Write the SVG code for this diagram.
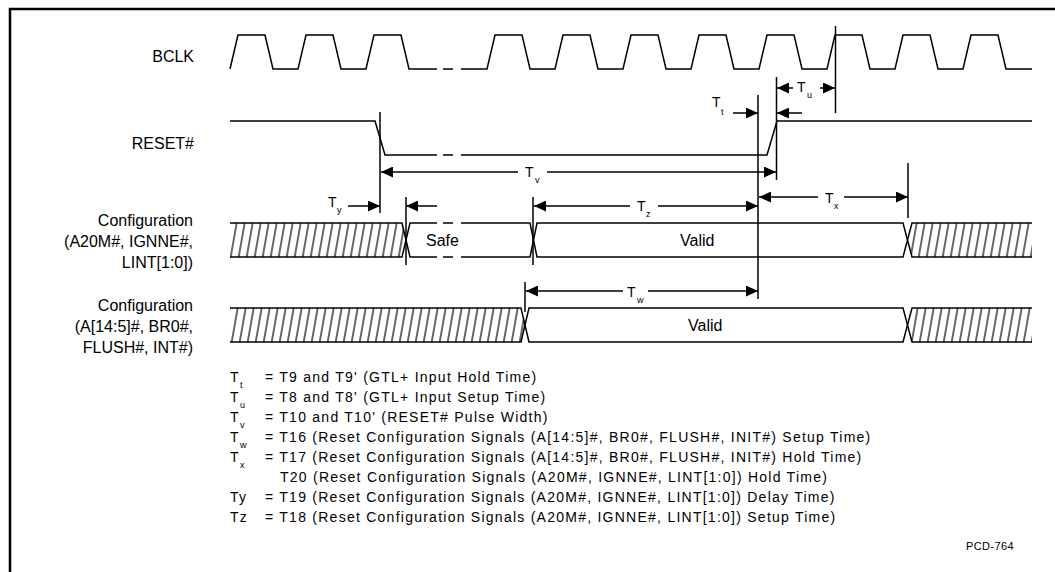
<svg xmlns="http://www.w3.org/2000/svg" width="1055" height="572" viewBox="0 0 1055 572">
<style>
  .w { fill: none; stroke: #000; stroke-width: 1.5; stroke-linejoin: miter; }
  .d { fill: none; stroke: #000; stroke-width: 1.5; }
  .a { fill: none; stroke: #000; stroke-width: 1.5; marker-end: url(#ah); }
  .lbl { font-family: "Liberation Sans", Arial, sans-serif; font-size: 16px; fill: #000; }
  .t { font-family: "Liberation Sans", Arial, sans-serif; font-size: 14px; fill: #000; }
  .s { font-family: "Liberation Sans", Arial, sans-serif; font-size: 9px; fill: #000; }
  .lg { font-family: "Liberation Sans", Arial, sans-serif; font-size: 14px; letter-spacing: 1.25px; fill: #000; }
  .ref { font-family: "Liberation Sans", Arial, sans-serif; font-size: 11px; letter-spacing: 0.4px; fill: #000; }
</style>
<defs>
  <marker id="ah" viewBox="0 0 12 11" refX="12" refY="5.5" markerWidth="12" markerHeight="11" markerUnits="userSpaceOnUse" orient="auto">
    <path d="M0,0 L12,5.5 L0,11 z" fill="#000"/>
  </marker>
  <pattern id="hatch" patternUnits="userSpaceOnUse" width="8" height="10" patternTransform="skewX(-10)">
    <line x1="4" y1="-1" x2="4" y2="11" stroke="#000" stroke-width="1.2"/>
  </pattern>
</defs>
<rect width="1055" height="572" fill="#fff"/>
<path d="M10,572 V9 H1055" fill="none" stroke="#000" stroke-width="2.5"/>

<g id="labels">
  <text class="lbl" x="194" y="62" text-anchor="end">BCLK</text>
  <text class="lbl" x="194" y="149" text-anchor="end">RESET#</text>
  <text class="lbl" x="193" y="226" text-anchor="end">Configuration</text>
  <text class="lbl" x="193" y="247" text-anchor="end">(A20M#, IGNNE#,</text>
  <text class="lbl" x="193" y="268" text-anchor="end">LINT[1:0])</text>
  <text class="lbl" x="193" y="311" text-anchor="end">Configuration</text>
  <text class="lbl" x="193" y="332" text-anchor="end">(A[14:5]#, BR0#,</text>
  <text class="lbl" x="193" y="353" text-anchor="end">FLUSH#, INT#)</text>
</g>

<g id="bclk">
  <path class="w" d="M230,69 L238,35 H265 L273,69 H298 L306,35 H333 L341,69 H366 L374,35 H401 L409,69 H437 M443,69 H453 M461,69 H487 L495,35 H522 L530,69 H555 L563,35 H590 L598,69 H623 L631,35 H658 L666,69 H691 L699,35 H726 L734,69 H759 L767,35 H794 L802,69 H827 L835,35 H862 L870,69 H895 L903,35 H930 L938,69 H963 L971,35 H998 L1006,69 H1032"/>
</g>

<g id="reset">
  <path class="w" d="M230,121 H375 L385,155 H437 M443,155 H453 M461,155 H767 L777,121 H1032"/>
</g>

<g id="config1">
  <polygon points="230,223 402,223 406,240 402,257 230,257" fill="url(#hatch)"/>
  <polygon points="1032,223 912,223 907.5,240 912,257 1032,257" fill="url(#hatch)"/>
  <path class="w" d="M230,223 H402 L410,257 H437 M443,257 H453 M461,257 H530 L537,223 H903 L912,257 H1032"/>
  <path class="w" d="M230,257 H402 L410,223 H437 M443,223 H453 M461,223 H530 L537,257 H903 L912,223 H1032"/>
  <text class="lbl" x="426" y="246">Safe</text>
  <text class="lbl" x="680" y="246">Valid</text>
</g>

<g id="config2">
  <polygon points="230,308 521,308 525,325 521,342 230,342" fill="url(#hatch)"/>
  <polygon points="1032,308 912,308 907.5,325 912,342 1032,342" fill="url(#hatch)"/>
  <path class="w" d="M230,308 H521 L529,342 H903 L912,308 H1032"/>
  <path class="w" d="M230,342 H521 L529,308 H903 L912,342 H1032"/>
  <text class="lbl" x="688" y="331">Valid</text>
</g>

<g id="connectors">
  <!-- reference lines -->
  <line class="d" x1="380" y1="112" x2="380" y2="213"/>
  <line class="d" x1="406" y1="197" x2="406" y2="265"/>
  <line class="d" x1="533" y1="197" x2="533" y2="265"/>
  <line class="d" x1="525" y1="282" x2="525" y2="312"/>
  <line class="d" x1="758" y1="95" x2="758" y2="299"/>
  <line class="d" x1="776.5" y1="77" x2="776.5" y2="180"/>
  <line class="d" x1="835.5" y1="26" x2="835.5" y2="113"/>
  <line class="d" x1="908" y1="163" x2="908" y2="218"/>
  <!-- Tu -->
  <line class="a" x1="793" y1="88" x2="777" y2="88"/>
  <line class="a" x1="820" y1="88" x2="835" y2="88"/>
  <!-- Tt -->
  <line class="a" x1="733" y1="113" x2="758" y2="113"/>
  <line class="a" x1="802" y1="113" x2="777" y2="113"/>
  <!-- Tv -->
  <line class="a" x1="518" y1="172" x2="381" y2="172"/>
  <line class="a" x1="547" y1="172" x2="776" y2="172"/>
  <!-- Tx -->
  <line class="a" x1="818" y1="197" x2="759" y2="197"/>
  <line class="a" x1="844" y1="197" x2="908" y2="197"/>
  <!-- Ty -->
  <line class="a" x1="348" y1="206" x2="380" y2="206"/>
  <line class="a" x1="437" y1="206" x2="406" y2="206"/>
  <!-- Tz -->
  <line class="a" x1="630" y1="206" x2="534" y2="206"/>
  <line class="a" x1="658" y1="206" x2="758" y2="206"/>
  <!-- Tw -->
  <line class="a" x1="623" y1="291" x2="526" y2="291"/>
  <line class="a" x1="648" y1="291" x2="758" y2="291"/>
</g>

<g id="timing-labels">
  <text class="t" x="712" y="107">T</text><text class="s" x="721" y="115">t</text>
  <text class="t" x="797" y="92">T</text><text class="s" x="807" y="98">u</text>
  <text class="t" x="525" y="177">T</text><text class="s" x="535" y="183">v</text>
  <text class="t" x="328" y="207">T</text><text class="s" x="337" y="213">y</text>
  <text class="t" x="637" y="211">T</text><text class="s" x="646" y="217">z</text>
  <text class="t" x="825" y="203">T</text><text class="s" x="834" y="209">x</text>
  <text class="t" x="627" y="297">T</text><text class="s" x="637" y="303">w</text>
</g>

<g id="legend">
  <text class="t" x="230" y="382">T</text><text class="s" x="240" y="388">t</text>
  <text class="lg" x="265" y="382">= T9 and T9' (GTL+ Input Hold Time)</text>
  <text class="t" x="230" y="402">T</text><text class="s" x="240" y="408">u</text>
  <text class="lg" x="265" y="402">= T8 and T8' (GTL+ Input Setup Time)</text>
  <text class="t" x="230" y="422">T</text><text class="s" x="240" y="428">v</text>
  <text class="lg" x="265" y="422">= T10 and T10' (RESET# Pulse Width)</text>
  <text class="t" x="230" y="442">T</text><text class="s" x="240" y="448">w</text>
  <text class="lg" x="265" y="442">= T16 (Reset Configuration Signals (A[14:5]#, BR0#, FLUSH#, INIT#) Setup Time)</text>
  <text class="t" x="230" y="462">T</text><text class="s" x="240" y="468">x</text>
  <text class="lg" x="265" y="462">= T17 (Reset Configuration Signals (A[14:5]#, BR0#, FLUSH#, INIT#) Hold Time)</text>
  <text class="lg" x="280" y="482">T20 (Reset Configuration Signals (A20M#, IGNNE#, LINT[1:0]) Hold Time)</text>
  <text class="lg" x="230" y="502">Ty</text>
  <text class="lg" x="265" y="502">= T19 (Reset Configuration Signals (A20M#, IGNNE#, LINT[1:0]) Delay Time)</text>
  <text class="lg" x="230" y="522">Tz</text>
  <text class="lg" x="265" y="522">= T18 (Reset Configuration Signals (A20M#, IGNNE#, LINT[1:0]) Setup Time)</text>
  <text class="ref" x="966" y="550">PCD-764</text>
</g>
</svg>
